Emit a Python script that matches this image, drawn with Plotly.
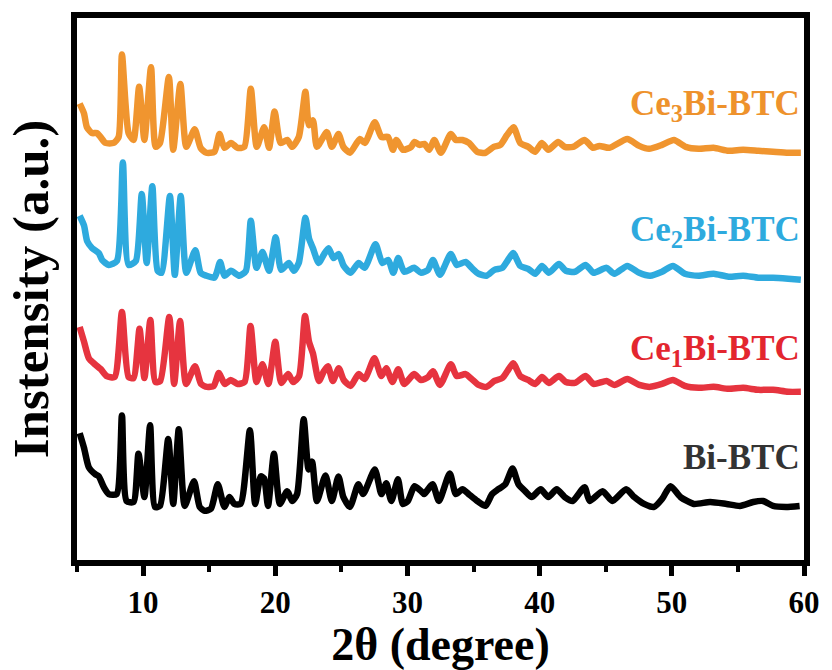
import plotly.graph_objects as go

# XRD patterns, curves stacked vertically (arbitrary units)
two_theta_bi = [5.2, 5.53, 5.9, 6.4, 6.65, 7.03, 7.4, 8.0, 8.4, 8.75, 9.28, 9.65, 10.1, 10.53, 10.9, 11.28,
                11.9, 12.28, 12.7, 13.15, 13.85, 14.28, 14.65, 15.13, 15.65, 16.15, 16.53, 16.9, 17.38, 18.08,
                18.48, 18.9, 19.15, 19.45, 19.9, 20.35, 20.9, 21.28, 21.65, 22.15, 22.52, 22.78, 23.15, 23.8,
                24.28, 24.78, 25.15, 25.65, 26.28, 26.65, 27.53, 28.03, 28.4, 28.78, 29.28, 29.65, 30.03, 30.53,
                31.03, 31.26, 31.9, 32.38, 33.2, 33.66, 34.16, 34.63, 35.28, 35.9, 36.4, 36.88, 37.4, 37.95,
                38.4, 38.9, 39.4, 40.08, 40.66, 41.29, 41.9, 42.5, 43.4, 43.78, 44.76, 45.5, 46.54, 47.16,
                47.9, 48.66, 49.26, 49.9, 50.66, 51.66, 52.9, 54.14, 55.16, 56.16, 56.9, 57.66, 58.64, 59.67]
intensity_bi = [129, 114, 94, 87, 85, 74, 67, 67, 147, 60, 59, 108, 64, 137, 54, 55,
                123, 57, 133, 55, 80, 54, 50, 52, 77, 54, 64, 57, 57, 132,
                57, 85, 83, 55, 108, 57, 70, 60, 67, 143, 92, 100, 60, 86,
                60, 85, 64, 54, 77, 67, 92, 67, 78, 60, 82, 57, 60, 75,
                70, 67, 77, 60, 88, 67, 72, 67, 60, 55, 67, 72, 77, 93,
                77, 70, 64, 72, 64, 72, 64, 60, 74, 60, 70, 60, 72, 64,
                57, 54, 62, 75, 64, 57, 59, 57, 55, 59, 60, 55, 54, 55]

two_theta_ce1 = [5.2, 5.53, 5.9, 6.35, 6.8, 7.25, 7.85, 8.4, 8.9, 9.28, 9.73, 10.1, 10.55, 10.93, 11.3, 11.98,
                 12.35, 12.8, 13.25, 13.93, 14.38, 14.83, 15.35, 15.73, 16.18, 16.63, 17.15, 17.68, 18.13,
                 18.58, 19.03, 19.48, 20.0, 20.45, 20.98, 21.35, 21.8, 22.25, 22.55, 22.85, 23.3, 23.68, 23.98,
                 24.36, 24.8, 25.18, 25.7, 26.3, 26.76, 27.5, 28.03, 28.4, 28.86, 29.3, 29.76, 30.5, 31.03,
                 31.56, 31.93, 32.46, 33.28, 33.73, 34.4, 34.86, 35.38, 35.98, 36.58, 37.18, 37.56, 38.0,
                 38.53, 39.13, 39.66, 40.18, 40.7, 41.46, 41.98, 42.66, 43.48, 44.08, 45.06, 45.66, 46.63,
                 47.53, 48.36, 49.26, 50.08, 50.98, 52.03, 53.16, 54.29, 55.4, 56.54, 57.66, 58.8, 59.76]
intensity_ce1 = [237, 222, 205, 199, 194, 187, 186, 252, 186, 185, 235, 185, 244, 181, 182, 247,
                 179, 243, 179, 197, 179, 176, 177, 190, 179, 183, 179, 181, 238,
                 181, 199, 179, 222, 180, 189, 181, 187, 248, 222, 210, 182, 192, 197,
                 182, 195, 183, 177, 189, 184, 205, 187, 195, 181, 194, 179, 189, 183,
                 186, 192, 178, 199, 187, 189, 184, 178, 176, 182, 185, 192, 200,
                 187, 183, 179, 186, 180, 187, 181, 180, 187, 179, 182, 178, 184,
                 178, 176, 179, 183, 177, 175, 176, 174, 175, 173, 173, 171, 171]

two_theta_ce2 = [5.2, 5.53, 5.77, 6.15, 6.65, 6.9, 7.4, 8.02, 8.47, 8.9, 9.45, 9.9, 10.27, 10.7, 11.1, 11.4,
                 12.03, 12.4, 12.85, 13.27, 13.95, 14.35, 14.78, 15.4, 15.83, 16.15, 16.65, 17.28, 17.78,
                 18.15, 18.58, 19.03, 19.53, 20.03, 20.45, 21.03, 21.4, 21.78, 22.28, 22.55, 22.85, 23.28,
                 23.65, 24.03, 24.4, 24.8, 25.18, 25.7, 26.3, 26.76, 27.58, 28.1, 28.55, 28.93, 29.3, 29.76,
                 30.5, 31.03, 31.56, 31.93, 32.46, 33.28, 33.73, 34.4, 34.86, 35.38, 35.98, 36.58, 37.18,
                 37.56, 38.0, 38.53, 39.13, 39.66, 40.18, 40.7, 41.46, 41.98, 42.66, 43.48, 44.08, 45.06,
                 45.66, 46.63, 47.53, 48.36, 49.26, 50.08, 50.98, 52.03, 53.16, 54.29, 55.4, 56.54, 57.66,
                 58.8, 59.76]
intensity_ce2 = [350, 340, 324, 317, 312, 305, 300, 304, 404, 300, 304, 372, 302, 380, 294, 292,
                 370, 290, 370, 292, 315, 292, 289, 287, 303, 289, 294, 289, 294,
                 345, 297, 313, 294, 328, 295, 302, 294, 302, 348, 327, 317, 302,
                 310, 317, 307, 311, 299, 292, 302, 297, 321, 302, 305, 292, 307, 293,
                 297, 292, 295, 305, 290, 311, 300, 303, 297, 291, 289, 295, 297,
                 304, 312, 299, 296, 291, 299, 292, 301, 294, 293, 300, 292, 297,
                 291, 299, 292, 289, 293, 299, 291, 289, 291, 288, 289, 287, 287,
                 286, 285]

two_theta_ce3 = [5.2, 5.53, 5.75, 6.13, 6.5, 6.78, 7.15, 7.78, 8.15, 8.4, 8.9, 9.28, 9.7, 10.1, 10.6, 10.95,
                 11.28, 11.95, 12.28, 12.82, 13.27, 13.9, 14.35, 14.78, 15.4, 15.78, 16.15, 16.65, 17.15,
                 17.66, 18.15, 18.6, 19.16, 19.53, 19.95, 20.4, 20.9, 21.28, 21.78, 22.28, 22.55, 22.85,
                 23.15, 23.9, 24.28, 24.78, 25.15, 25.65, 26.4, 26.78, 27.53, 28.03, 28.53, 28.9, 29.16,
                 29.66, 30.28, 30.53, 30.9, 31.28, 31.65, 32.03, 32.53, 33.28, 33.66, 34.16, 34.65, 35.28,
                 35.9, 36.53, 37.03, 37.53, 38.03, 38.53, 39.15, 39.66, 40.16, 40.66, 41.4, 41.9, 42.53,
                 43.4, 44.03, 44.53, 45.28, 46.63, 47.53, 48.28, 49.26, 50.16, 51.06, 52.03, 53.16, 54.29,
                 55.4, 56.54, 57.66, 58.8, 59.76]
intensity_ce3 = [464, 454, 440, 434, 434, 430, 424, 424, 430, 514, 434, 427, 481, 427, 501, 420,
                 424, 491, 417, 484, 420, 438, 419, 414, 415, 433, 419, 424, 419,
                 420, 479, 420, 440, 419, 456, 424, 427, 420, 430, 476, 442, 447,
                 420, 435, 420, 433, 420, 414, 428, 424, 445, 430, 430, 417, 427,
                 417, 420, 425, 422, 423, 417, 427, 414, 433, 427, 427, 424, 415,
                 414, 420, 422, 432, 440, 424, 420, 415, 424, 417, 425, 420, 420,
                 427, 419, 421, 419, 428, 421, 418, 422, 427, 420, 418, 419, 416,
                 417, 416, 415, 414, 414]

series = [
    ("Bi-BTC", two_theta_bi, intensity_bi, "#000000"),
    ("Ce1Bi-BTC", two_theta_ce1, intensity_ce1, "#E6343F"),
    ("Ce2Bi-BTC", two_theta_ce2, intensity_ce2, "#2EAADE"),
    ("Ce3Bi-BTC", two_theta_ce3, intensity_ce3, "#F0952F"),
]

# label text and vertical placement for each curve
label_text = ["Bi-BTC", "Ce<sub>1</sub>Bi-BTC", "Ce<sub>2</sub>Bi-BTC", "Ce<sub>3</sub>Bi-BTC"]
label_color = ["#333333", "#E3262F", "#2EAADE", "#EE922C"]
label_y = [104, 213, 334, 462]

x_ticks = [10, 20, 30, 40, 50, 60]

FONT = "Liberation Serif"

fig = go.Figure()
for name, xs, ys, color in series:
    fig.add_trace(go.Scatter(x=xs, y=ys, mode="lines", name=name,
                             line=dict(color=color, width=6.5, shape="spline", smoothing=0.6),
                             showlegend=False))

for txt, col, yv in zip(label_text, label_color, label_y):
    fig.add_annotation(x=0.997, xref="paper", y=yv, yref="y", text=txt, showarrow=False,
                       xanchor="right", yanchor="middle",
                       font=dict(family=FONT, size=35, color=col, weight="bold"))

fig.update_layout(
    width=832, height=670,
    margin=dict(l=77, r=21, t=16, b=103),
    plot_bgcolor="white", paper_bgcolor="white",
    xaxis=dict(range=[5, 60], tickvals=x_ticks, ticks="outside", ticklen=10, tickwidth=5,
               tickcolor="black", showline=True, linewidth=6, linecolor="black", mirror=True,
               showgrid=False, zeroline=False,
               minor=dict(dtick=5, tick0=0, ticks="outside", ticklen=6, tickwidth=4, tickcolor="black"),
               tickfont=dict(family=FONT, size=31, color="#000000", weight="bold"),
               title=dict(text="2θ (degree)", standoff=6,
                          font=dict(family=FONT, size=46, color="#000000", weight="bold"))),
    yaxis=dict(range=[0, 551], showticklabels=False, ticks="", showline=True, linewidth=6,
               linecolor="black", mirror=True, showgrid=False, zeroline=False,
               title=dict(text="Instensity (a.u.)", standoff=8,
                          font=dict(family=FONT, size=51, color="#000000", weight="bold"))),
)

fig.write_html("out.html")
